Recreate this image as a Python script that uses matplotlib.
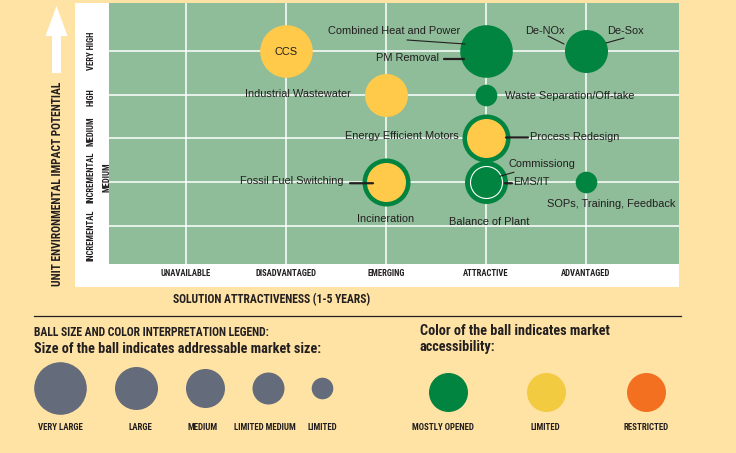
import matplotlib
matplotlib.use("Agg")
import matplotlib.pyplot as plt
from matplotlib import font_manager
from matplotlib.patches import Rectangle, FancyArrow
from matplotlib.transforms import offset_copy

# axes categories
attractiveness = ["UNAVAILABLE", "DISADVANTAGED", "EMERGING", "ATTRACTIVE", "ADVANTAGED"]
impact = ["INCREMENTAL", "INCREMENTAL\nMEDIUM", "MEDIUM", "HIGH", "VERY HIGH"]
market_sizes = ["VERY LARGE", "LARGE", "MEDIUM", "LIMITED MEDIUM", "LIMITED"]
access_levels = ["MOSTLY OPENED", "LIMITED", "RESTRICTED"]

# the balls
ball_attr = ["DISADVANTAGED", "ATTRACTIVE", "ADVANTAGED", "EMERGING", "ATTRACTIVE",
             "ATTRACTIVE", "EMERGING", "ATTRACTIVE", "ATTRACTIVE", "ADVANTAGED"]
ball_impact = ["VERY HIGH", "VERY HIGH", "VERY HIGH", "HIGH", "HIGH",
               "MEDIUM", "INCREMENTAL\nMEDIUM", "INCREMENTAL\nMEDIUM",
               "INCREMENTAL\nMEDIUM", "INCREMENTAL\nMEDIUM"]
ball_size = ["VERY LARGE", "VERY LARGE", "LARGE", "LARGE", "LIMITED",
             "MEDIUM", "MEDIUM", "LARGE", "LIMITED MEDIUM", "LIMITED"]
ball_access = ["LIMITED", "MOSTLY OPENED", "MOSTLY OPENED", "LIMITED", "MOSTLY OPENED",
               "LIMITED", "LIMITED", "MOSTLY OPENED", "MOSTLY OPENED", "MOSTLY OPENED"]
# ring around a ball (access of the wrapping solution), "outline" = thin white ring
ball_ring = [None, None, None, None, None, "MOSTLY OPENED", "MOSTLY OPENED", None, "outline", None]

# solution names and the ball each one belongs to
label_text = ["CCS", "Combined Heat and Power", "PM Removal", "De-NOx", "De-Sox",
              "Industrial Wastewater", "Waste Separation/Off-take", "Energy Efficient Motors",
              "Process Redesign", "Fossil Fuel Switching", "Incineration", "Commissiong",
              "EMS/IT", "Balance of Plant", "SOPs, Training, Feedback"]
label_ball = [0, 1, 1, 2, 2, 3, 4, 5, 5, 6, 6, 8, 8, 7, 9]

BG = "#FFE3A5"
PLOT_BG = "#8FBC99"
INK = "#231F20"
ball_colors = {"MOSTLY OPENED": "#00843F", "LIMITED": "#FFC94A", "RESTRICTED": "#F37021"}
legend_colors = {"MOSTLY OPENED": "#00843F", "LIMITED": "#F2CB41", "RESTRICTED": "#F37021"}
radius_px = {"VERY LARGE": 26.3, "LARGE": 21.5, "MEDIUM": 19.5, "LIMITED MEDIUM": 16, "LIMITED": 10.8}
RING_PX = 4.5

installed = {f.name for f in font_manager.fontManager.ttflist}
narrow = next((f for f in ["Liberation Sans Narrow", "DejaVu Sans Condensed", "Roboto Condensed"]
               if f in installed), None)
NARROW = [narrow, "DejaVu Sans"] if narrow else ["DejaVu Sans"]
NS = 1.0 if narrow else 0.8
LABEL_FONT = ["Liberation Sans", "DejaVu Sans"]


def area(r):
    # radius in pixels -> scatter area in points^2 (dpi 100)
    return (2 * r * 0.72) ** 2


fig = plt.figure(figsize=(7.36, 4.53), dpi=100)
fig.patch.set_facecolor(BG)

# overlay in pixel coordinates for panel, titles and legend
ov = fig.add_axes([0, 0, 1, 1], zorder=0)
ov.set_xlim(0, 736)
ov.set_ylim(453, 0)
ov.axis("off")
ov.add_patch(Rectangle((75, 3), 604, 284, facecolor="white", edgecolor="none"))
ov.add_patch(FancyArrow(56.5, 73, 0, -67, width=9, head_width=22, head_length=30,
                        length_includes_head=True, color="white", lw=0))
ov.text(57.5, 183.5, "UNIT ENVIRONMENTAL IMPACT POTENTIAL", rotation=90, ha="center",
        va="center", family=NARROW, weight="bold", size=8.3 * NS, color=INK)
ov.text(271.5, 300, "SOLUTION ATTRACTIVENESS (1-5 YEARS)", ha="center", va="center",
        family=NARROW, weight="bold", size=8.4 * NS, color=INK)

ax = fig.add_axes([109 / 736, 1 - 264 / 453, 570 / 736, 261 / 453], zorder=1)
ax.set_facecolor(PLOT_BG)
ax.set_xlim(-0.77, 4.93)
ax.set_ylim(-0.869, 5.097)
for s in ax.spines.values():
    s.set_visible(False)
ax.set_xticks(range(len(attractiveness)))
ax.set_xticklabels(attractiveness, family=NARROW, weight="bold", size=6.2 * NS, color=INK)
ax.set_yticks(range(len(impact)))
ax.set_yticklabels([])
ax.tick_params(length=0, pad=3.4)
ax.grid(True, color="white", lw=1.1)
ax.set_axisbelow(True)
# vertical nudge of each impact label (pixels, down)
impact_nudge = [9, -5, -7, 2, 0]
for j, (name, nudge) in enumerate(zip(impact, impact_nudge)):
    tr = offset_copy(ax.get_yaxis_transform(), fig=fig, x=0, y=-nudge, units="dots")
    ax.text(-22 / 570, j, name, transform=tr, rotation=90,
            ha="left", va="center", multialignment="center", linespacing=1.9,
            family=NARROW, weight="bold", size=6.2 * NS, color=INK)

centers = []
for i in range(len(ball_attr)):
    x = attractiveness.index(ball_attr[i])
    y = impact.index(ball_impact[i])
    centers.append((x, y))
    r = radius_px[ball_size[i]]
    z = 3 + i * 0.1
    if ball_ring[i] == "outline":
        ax.scatter(x, y, s=area(r), color=ball_colors[ball_access[i]],
                   edgecolors="white", linewidths=0.8, zorder=z)
        continue
    if ball_ring[i]:
        ax.scatter(x, y, s=area(r + RING_PX), color=ball_colors[ball_ring[i]], lw=0, zorder=z)
    ax.scatter(x, y, s=area(r), color=ball_colors[ball_access[i]], lw=0, zorder=z + 0.05)

# label placement: offset from the ball centre in pixels (y down), align, leader line
label_pos = [
    (0, 1, "center", None, 0),
    (-26, -20, "right", ((-79, -11), (-21, -7)), 0.8),
    (-47, 7, "right", ((-42, 8), (-22, 8)), 1.6),
    (-41.5, -20, "center", ((-38, -15), (-22, -7)), 0.8),
    (39, -20, "center", ((38, -13), (20, -8)), 0.8),
    (-35, -1, "right", None, 0),
    (19, 1, "left", None, 0),
    (-27, -2, "right", None, 0),
    (44, -1, "left", ((20, -1), (42, -1)), 1.6),
    (-42, -1, "right", ((-36, 1), (-13, 1)), 1.6),
    (0, 37, "center", None, 0),
    (22, -18, "left", ((14, -6), (28, -10)), 0.8),
    (27, 0, "left", ((19, 1), (26, 1)), 1.6),
    (3.5, 40, "center", None, 0),
    (25.5, 22, "center", None, 0),
]
for text, b, (dx, dy, ha, leader, lw) in zip(label_text, label_ball, label_pos):
    cx, cy = centers[b]
    ax.annotate(text, (cx, cy), xytext=(dx, -dy), textcoords="offset pixels",
                ha=ha, va="center", family=LABEL_FONT, size=7.9, color=INK, zorder=6)
    if leader:
        (sx, sy), (ex, ey) = leader
        ax.annotate("", xy=(cx, cy), xytext=(cx, cy),
                    xycoords=offset_copy(ax.transData, fig=fig, x=ex, y=-ey, units="dots"),
                    textcoords=offset_copy(ax.transData, fig=fig, x=sx, y=-sy, units="dots"),
                    arrowprops=dict(arrowstyle="-", lw=lw, color=INK, shrinkA=0, shrinkB=0),
                    zorder=6)

# legend
ov.plot([34, 681], [316, 316], color=INK, lw=0.9)
ov.text(34, 332, "BALL SIZE AND COLOR INTERPRETATION LEGEND:", ha="left", va="center",
        family=NARROW, weight="bold", size=8.4 * NS, color=INK)
ov.text(34, 349, "Size of the ball indicates addressable market size:", ha="left", va="center",
        family=NARROW, weight="bold", size=10.3 * NS, color=INK)
ov.text(420, 331, "Color of the ball indicates market", ha="left", va="center",
        family=NARROW, weight="bold", size=10.3 * NS, color=INK)
ov.text(420, 347, "accessibility:", ha="left", va="center",
        family=NARROW, weight="bold", size=10.3 * NS, color=INK)

size_x = [59.5, 136, 205, 268, 322]
size_lab_x = [60.5, 140, 203, 265, 322]
for name, x, lx in zip(market_sizes, size_x, size_lab_x):
    ov.scatter(x, 388, s=area(radius_px[name]), color="#646B7A", lw=0)
    ov.text(lx, 427, name, ha="center", va="center", family=NARROW, weight="bold",
            size=6.4 * NS, color=INK)

color_x = [448, 546, 646]
color_lab_x = [443, 545, 646]
for name, x, lx in zip(access_levels, color_x, color_lab_x):
    ov.scatter(x, 392, s=area(radius_px["MEDIUM"]), color=legend_colors[name], lw=0)
    ov.text(lx, 427, name, ha="center", va="center", family=NARROW, weight="bold",
            size=6.4 * NS, color=INK)

fig.savefig("out.png", dpi=100, facecolor=BG)
